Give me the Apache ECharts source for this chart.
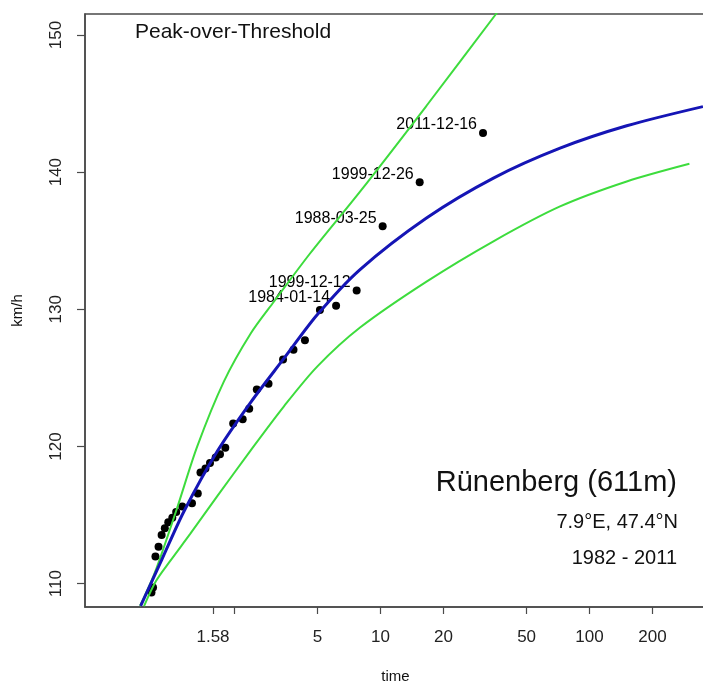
<!DOCTYPE html>
<html><head><meta charset="utf-8">
<script src="https://cdn.jsdelivr.net/npm/echarts@6/dist/echarts.min.js"></script>
<style>html,body{margin:0;padding:0;background:#fff}#c{width:703px;height:682px}</style>
</head><body><div id="c"></div><script>
// observed peaks: return period (years) and wind speed (km/h)
const obsPeriod = [30.94, 15.40, 10.24, 7.69, 6.13, 5.13, 4.35, 3.835, 3.417, 2.912, 2.559, 2.354, 2.191, 1.973, 1.809, 1.706, 1.627, 1.528, 1.454, 1.376, 1.336, 1.253, 1.126, 1.053, 1.009, 0.965, 0.929, 0.897, 0.867, 0.838, 0.816, 0.802];
const obsSpeed  = [142.85, 139.26, 136.05, 131.37, 130.26, 129.96, 127.75, 127.06, 126.35, 124.58, 124.16, 122.76, 121.98, 121.67, 119.91, 119.43, 119.19, 118.80, 118.40, 118.10, 116.57, 115.87, 115.63, 115.23, 114.80, 114.48, 114.05, 113.54, 112.69, 111.99, 109.73, 109.35];
const obsDate   = ['2011-12-16', '1999-12-26', '1988-03-25', '1999-12-12', '1984-01-14'];
// fitted return level curve
const fitPeriod = [0.712, 0.901, 1.148, 1.656, 2.393, 3.452, 4.99, 7.98, 16.6, 34.7, 72.3, 150.7, 349];
const fitLevel  = [108.39, 111.79, 115.28, 119.65, 123.22, 126.42, 129.62, 132.90, 136.66, 139.57, 141.75, 143.38, 144.78];
// confidence band
const upperPeriod = [0.707, 0.834, 1.059, 1.328, 1.782, 2.393, 3.094, 4.60, 7.98, 16.6, 35.7, 42];
const upperLevel  = [108.37, 110.84, 115.43, 120.01, 124.75, 128.24, 130.57, 134.07, 138.58, 144.84, 151.53, 152.96];
const lowerPeriod = [0.739, 0.843, 0.984, 1.226, 1.656, 2.393, 3.452, 4.99, 7.98, 16.6, 34.7, 72.3, 150.7, 300.6];
const lowerLevel  = [108.37, 110.19, 111.64, 113.61, 116.38, 119.72, 122.93, 125.84, 128.67, 132.02, 134.96, 137.50, 139.32, 140.61];
// axis ticks
const xTickValues  = [1.58, 2, 5, 10, 20, 50, 100, 200];
const xLabelValues = [1.58, 5, 10, 20, 50, 100, 200];
const yTickValues  = [110, 120, 130, 140, 150];

const FONT = 'Liberation Sans';
const pair = (xs, ys) => xs.map((x, i) => [x, ys[i]]);
const obsData = obsPeriod.map((t, i) => {
  const item = { value: [t, obsSpeed[i]] };
  if (obsDate[i]) item.label = { show: true, formatter: obsDate[i] };
  return item;
});

const chart = echarts.init(document.getElementById('c'), null, { renderer: 'canvas' });
chart.setOption({
  animation: false,
  backgroundColor: '#fff',
  grid: { left: 85, top: 14, right: -3, bottom: 75, containLabel: false, outerBoundsMode: 'none',
    show: true, borderColor: '#4a4a4a', borderWidth: 1.5, backgroundColor: 'transparent' },
  xAxis: {
    type: 'log', logBase: 10, min: 0.3856, max: 360.9,
    name: 'time', nameLocation: 'middle', nameGap: 62,
    nameTextStyle: { fontFamily: FONT, fontSize: 15, color: '#111' },
    axisLine: { show: true, lineStyle: { color: '#4a4a4a', width: 1.5 } },
    axisTick: { show: true, length: 7, customValues: xTickValues, lineStyle: { color: '#4a4a4a', width: 1.2 } },
    axisLabel: { show: true, customValues: xLabelValues, margin: 22, fontFamily: FONT, fontSize: 17, color: '#222',
      formatter: v => String(+(+v).toPrecision(3)) },
    splitLine: { show: false }, minorTick: { show: false }
  },
  yAxis: {
    type: 'value', min: 108.3, max: 151.53,
    name: 'km/h', nameLocation: 'middle', nameGap: 60, nameRotate: 90,
    nameTextStyle: { fontFamily: FONT, fontSize: 15, color: '#111' },
    axisLine: { show: true, lineStyle: { color: '#4a4a4a', width: 1.5 } },
    axisTick: { show: true, length: 8, customValues: yTickValues, lineStyle: { color: '#4a4a4a', width: 1.2 } },
    axisLabel: { show: true, customValues: yTickValues, rotate: 90, margin: 20, fontFamily: FONT, fontSize: 17, color: '#222' },
    splitLine: { show: false }
  },
  series: [
    { type: 'scatter', data: obsData, symbol: 'circle', symbolSize: 8, z: 2,
      itemStyle: { color: '#000', opacity: 1 },
      label: { show: false, position: 'left', distance: 2, offset: [0, -8], fontFamily: FONT, fontSize: 16, color: '#000' } },
    { type: 'line', data: pair(upperPeriod, upperLevel), showSymbol: false, smooth: 0.3, z: 3,
      lineStyle: { color: '#3ddc3d', width: 2 } },
    { type: 'line', data: pair(lowerPeriod, lowerLevel), showSymbol: false, smooth: 0.3, z: 3,
      lineStyle: { color: '#3ddc3d', width: 2 } },
    { type: 'line', data: pair(fitPeriod, fitLevel), showSymbol: false, smooth: 0.3, z: 4,
      lineStyle: { color: '#1515b5', width: 3 } }
  ],
  graphic: [
    { type: 'text', x: 135, y: 32, style: { text: 'Peak-over-Threshold', fontFamily: FONT, fontSize: 21, fill: '#111', textAlign: 'left', textVerticalAlign: 'middle', align: 'left', verticalAlign: 'middle' } },
    { type: 'text', x: 677, y: 483, style: { text: 'Rünenberg (611m)', fontFamily: FONT, fontSize: 29, fill: '#111', textAlign: 'right', textVerticalAlign: 'middle', align: 'right', verticalAlign: 'middle' } },
    { type: 'text', x: 678, y: 522, style: { text: '7.9°E, 47.4°N', fontFamily: FONT, fontSize: 20, fill: '#111', textAlign: 'right', textVerticalAlign: 'middle', align: 'right', verticalAlign: 'middle' } },
    { type: 'text', x: 677, y: 558, style: { text: '1982 - 2011', fontFamily: FONT, fontSize: 20, fill: '#111', textAlign: 'right', textVerticalAlign: 'middle', align: 'right', verticalAlign: 'middle' } }
  ]
});
</script></body></html>
